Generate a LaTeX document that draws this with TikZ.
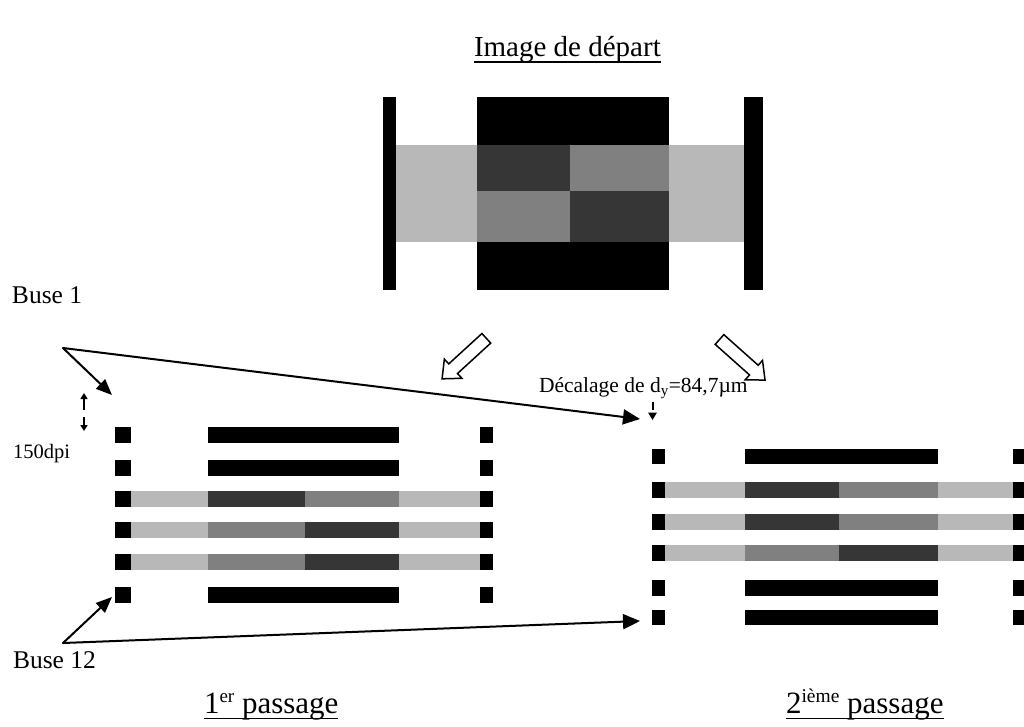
\documentclass[tikz,border=0pt]{standalone}
\usepackage{fontspec}
\setmainfont{Liberation Serif}
\usetikzlibrary{arrows.meta,calc}
\definecolor{lg}{gray}{0.72}
\definecolor{mg}{gray}{0.5}
\definecolor{dg}{gray}{0.21}
\newcommand\sqpair[2]{\fill[blk] (\PXa,#1) rectangle (\PXb,#2); \fill[blk] (\PXf,#1) rectangle (\PXg,#2);}
\newcommand\blackrow[2]{\sqpair{#1}{#2}\fill[blk] (\PXc,#1) rectangle (\PXe,#2);}
\newcommand\grayrow[4]{\sqpair{#1}{#2}\fill[lgt] (\PXb,#1) rectangle (\PXc,#2);
  \fill[#3] (\PXc,#1) rectangle (\PXd,#2); \fill[#4] (\PXd,#1) rectangle (\PXe,#2);
  \fill[lgt] (\PXe,#1) rectangle (\PXf,#2);}
\begin{document}
\begin{tikzpicture}[x=1pt,y=-1pt,
  lbl/.style={anchor=base west,inner sep=0pt,outer sep=0pt},
  uline/.style={line width=1.4pt},
  ptr/.style={line width=2pt,line cap=round,-{Triangle[length=16pt,width=13pt]}},
  longptr/.style={line width=2pt,line cap=round,-{Triangle[length=17pt,width=15pt]}},
  tick/.style={line width=2pt,-{Triangle[length=6pt,width=7pt]}},
  blockarrow/.style={draw=black,line width=1.5pt,fill=white,line join=miter},
  blk/.style={fill=black}, lgt/.style={fill=lg}, mid/.style={fill=mg}, drk/.style={fill=dg}]
\useasboundingbox (0,0) rectangle (1024,726);

% ---- title
\node[lbl] (title) at (474,56) {\fontsize{29}{34}\selectfont Image de départ};
\draw[uline] ($(title.base west)+(0,6)$) -- ($(title.base east)+(0,6)$);

% ---- starting image
\fill[blk] (383,97) rectangle (396,290);
\fill[blk] (744,97) rectangle (763,290);
\fill[lgt] (396,145) rectangle (744,242);
\fill[blk] (477,97) rectangle (669,145);
\fill[blk] (477,242) rectangle (669,290);
\fill[drk] (477,145) rectangle (570,191);
\fill[mid] (570,145) rectangle (669,191);
\fill[mid] (477,191) rectangle (570,242);
\fill[drk] (570,191) rectangle (669,242);

% ---- block arrows
\begin{scope}[shift={(486.3,338.3)},rotate=222.5]
\draw[blockarrow] (0,-6.5) -- (45,-6.5) -- (45,-13) -- (60,0) -- (45,13) -- (45,6.5) -- (0,6.5) -- cycle;
\end{scope}
\begin{scope}[shift={(719.5,339.5)},rotate=-41.7]
\draw[blockarrow] (0,-6.5) -- (46,-6.5) -- (46,-13) -- (61,0) -- (46,13) -- (46,6.5) -- (0,6.5) -- cycle;
\end{scope}

% ---- first pass
\def\PXa{115}\def\PXb{131}\def\PXc{208}\def\PXd{305}\def\PXe{399}\def\PXf{480}\def\PXg{493}
\blackrow{427}{443}
\blackrow{460}{476}
\grayrow{491}{507}{drk}{mid}
\grayrow{522}{538}{mid}{drk}
\grayrow{554}{570}{mid}{drk}
\blackrow{587}{603}

% ---- second pass
\def\PXa{652}\def\PXb{665}\def\PXc{745}\def\PXd{839}\def\PXe{938}\def\PXf{1013}\def\PXg{1024}
\blackrow{449}{464}
\grayrow{482}{498}{drk}{mid}
\grayrow{514}{530}{drk}{mid}
\grayrow{545}{561}{mid}{drk}
\blackrow{580}{596}
\blackrow{610}{625}

% ---- labels
\node[lbl] (buse1) at (12,303) {\fontsize{25.5}{30}\selectfont Buse 1};
\node[lbl] (buse12) at (13,668) {\fontsize{25.5}{30}\selectfont Buse 12};
\node[lbl] (dpi) at (13,458) {\fontsize{20.5}{24}\selectfont 150dpi};
\node[lbl] (dec) at (539,392) {\fontsize{21.5}{25}\selectfont Décalage de d\textsubscript{y}=84,7µm};

\node[lbl] (pass1) at (204,713) {\fontsize{31}{36}\selectfont 1\raisebox{11pt}{\fontsize{19}{22}\selectfont er} passage};
\draw[uline] ($(pass1.base west)+(0,5.5)$) -- ($(pass1.base east)+(0,5.5)$);
\node[lbl] (pass2) at (786,713) {\fontsize{31}{36}\selectfont 2\raisebox{11pt}{\fontsize{19.5}{22}\selectfont ième} passage};
\draw[uline] ($(pass2.base west)+(0,5.5)$) -- ($(pass2.base east)+(0,5.5)$);

% ---- pointer arrows
\coordinate (b1) at (63,348);
\coordinate (b1a) at (112,395);
\coordinate (b1b) at (640,419);
\draw[ptr] (b1) -- (b1a);
\draw[longptr] (b1) -- (b1b);
\coordinate (b12) at (63,643);
\coordinate (b12a) at (112,597);
\coordinate (b12b) at (640,621);
\draw[ptr] (b12) -- (b12a);
\draw[longptr] (b12) -- (b12b);

% ---- 150dpi ticks
\coordinate (up0) at (84,410); \coordinate (up1) at (84,393);
\coordinate (dn0) at (84,417); \coordinate (dn1) at (84,431);
\draw[tick] (up0) -- (up1);
\draw[tick] (dn0) -- (dn1);

% ---- dy marker
\coordinate (dy0) at (652.5,402); \coordinate (dy1) at (652.5,410);
\draw[line width=2pt] (dy0) -- (dy1);
\fill (648,412.5) -- (657,412.5) -- (652.5,420) -- cycle;
\end{tikzpicture}
\end{document}
